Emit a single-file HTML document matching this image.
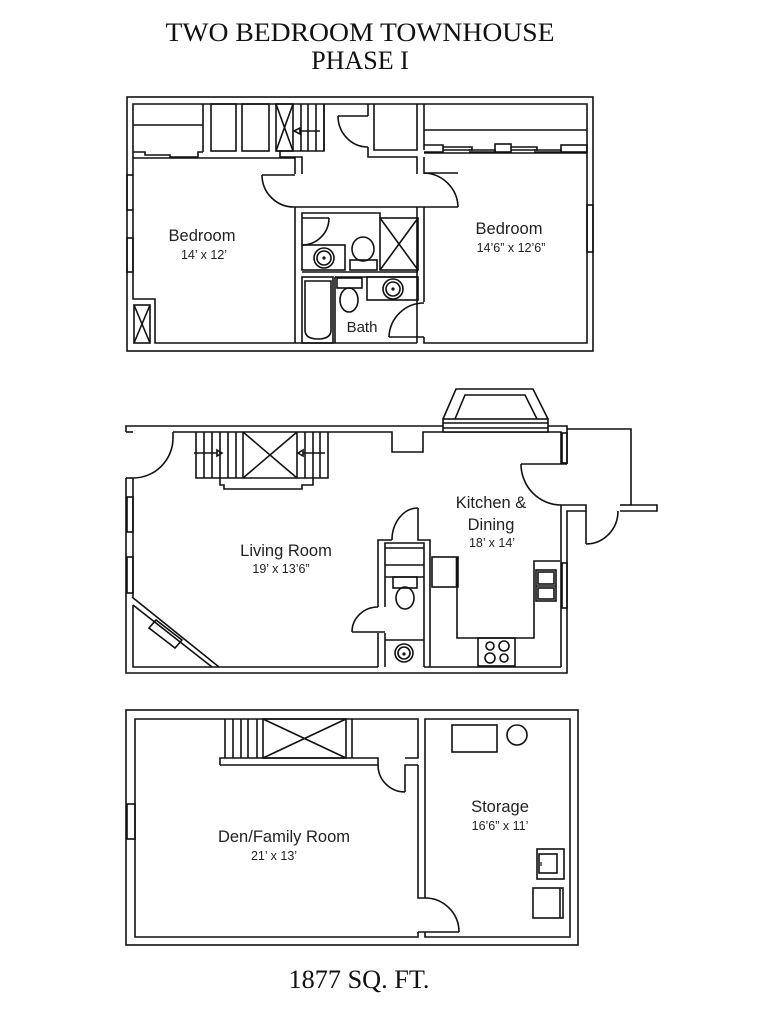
<!DOCTYPE html>
<html><head><meta charset="utf-8"><style>
html,body{margin:0;padding:0;background:#fff}
svg{display:block}
.s{font-family:"Liberation Sans","DejaVu Sans",sans-serif;fill:#222}
.t{font-family:"Liberation Serif",serif;fill:#111}
</style></head><body>
<svg width="772" height="1024" viewBox="0 0 772 1024" xmlns="http://www.w3.org/2000/svg">
<rect width="772" height="1024" fill="#fff"/>
<text class="t" x="360" y="41" font-size="26" text-anchor="middle" textLength="389" lengthAdjust="spacingAndGlyphs">TWO BEDROOM TOWNHOUSE</text>
<text class="t" x="360" y="69" font-size="26" text-anchor="middle">PHASE I</text>
<text class="t" x="359" y="988" font-size="26" text-anchor="middle" textLength="141" lengthAdjust="spacingAndGlyphs">1877 SQ. FT.</text>

<g fill="none" stroke="#111" stroke-width="1.6">
<!-- ========== TOP FLOOR ========== -->
<rect x="127" y="97" width="466" height="254"/>
<polyline points="133,175 133,104 587,104 587,343 424,343 424,337"/>
<polyline points="133,210 133,299 155,299 155,343 417,343"/>
<polyline points="417,343 417,337"/>
<rect x="127" y="175" width="6" height="35"/><rect x="127" y="238" width="6" height="34"/>
<rect x="587" y="205" width="6" height="47"/>
<line x1="133" y1="125" x2="203" y2="125"/>
<polyline points="203,104 203,152"/>
<polyline points="133,152 145,152 145,155 170,155 170,157 198,157 198,152 203,152"/>
<polyline points="133,158 295,158 295,174"/>
<polyline points="280,151 280,157 302,157 302,174"/>
<rect x="211" y="104" width="25" height="47"/>
<rect x="242" y="104" width="27" height="47"/>
<rect x="276" y="104" width="17" height="47"/>
<line x1="276" y1="104" x2="293" y2="151"/><line x1="293" y1="104" x2="276" y2="151"/>
<line x1="301" y1="104" x2="301" y2="151"/><line x1="308" y1="104" x2="308" y2="151"/>
<line x1="316" y1="104" x2="316" y2="151"/><line x1="324" y1="104" x2="324" y2="151"/>
<polyline points="276,151 324,151 324,104"/>
<line x1="300" y1="131" x2="320" y2="131"/>
<polygon points="294,131 300,128 300,134"/>
<polyline points="368,104 368,116"/>
<path d="M338,116 A30,31 0 0 0 368,147"/>
<line x1="338" y1="116" x2="368" y2="116"/>
<polyline points="368,147 368,157 417,157 417,174"/>
<polyline points="374,104 374,150 417,150 417,104"/>
<polyline points="424,104 424,150"/>
<polyline points="424,157 424,174"/>
<line x1="424" y1="130" x2="587" y2="130"/>
<polyline points="424,145 443,145 443,152 424,152"/>
<polyline points="443,147 472,147 472,150 443,150"/>
<polyline points="469,150 495,150 495,152 469,152"/>
<rect x="495" y="144" width="16" height="8"/>
<polyline points="511,147 537,147 537,150 511,150"/>
<polyline points="534,150 561,150 561,152 534,152"/>
<rect x="561" y="145" width="26" height="7"/>
<line x1="424" y1="153" x2="587" y2="153"/>
<path d="M262,175 A32,32 0 0 0 294,207"/>
<line x1="262" y1="175" x2="295" y2="175"/>
<path d="M424,173 A35,35 0 0 1 458,207"/>
<line x1="424" y1="173" x2="458" y2="173"/>
<line x1="294" y1="207" x2="458" y2="207"/>
<polyline points="295,207 295,343"/>
<polyline points="417,207 417,337"/>
<polyline points="424,207 424,302"/>
<polyline points="302,245 302,213 380,213 380,218"/>
<path d="M302,245 A27,27 0 0 0 329,218"/>
<line x1="302" y1="218" x2="329" y2="218"/>
<rect x="302" y="245" width="43" height="25"/>
<circle cx="324" cy="258" r="10"/><circle cx="324" cy="258" r="7"/><circle cx="324" cy="258" r="0.8" fill="#111"/>
<rect x="350" y="260" width="27" height="10"/>
<ellipse cx="363" cy="249" rx="11" ry="12"/>
<rect x="380" y="218" width="38" height="52"/>
<line x1="380" y1="218" x2="418" y2="270"/><line x1="418" y1="218" x2="380" y2="270"/>
<line x1="302" y1="272" x2="418" y2="272"/>
<rect x="302" y="277" width="31" height="66"/>
<path d="M305,281 H331 V330 Q331,339 318,339 Q305,339 305,330 Z"/>
<line x1="335" y1="277" x2="335" y2="343"/>
<line x1="335" y1="277" x2="418" y2="277"/>
<rect x="337" y="278" width="25" height="10"/>
<ellipse cx="349" cy="300" rx="9" ry="12"/>
<rect x="367" y="277" width="51" height="23"/>
<circle cx="393" cy="289" r="10"/><circle cx="393" cy="289" r="7"/><circle cx="393" cy="289" r="0.8" fill="#111"/>
<path d="M424,303 A35,35 0 0 0 389,337"/>
<line x1="389" y1="337" x2="424" y2="337"/>
<rect x="134" y="305" width="16" height="38"/>
<line x1="134" y1="305" x2="150" y2="343"/><line x1="150" y1="305" x2="134" y2="343"/>

<!-- ========== MIDDLE FLOOR ========== -->
<polyline points="126,478 126,673 567,673 567,511 586,511"/>
<polyline points="126,432 126,426 567,426 567,464"/>
<polyline points="173,432 392,432 392,452 423,452 423,432 561,432 561,464"/>
<polyline points="133,478 133,597"/>
<polyline points="133,432 126,432"/>
<path d="M173,438 A40,40 0 0 1 133,478"/>
<line x1="173" y1="432" x2="173" y2="438"/>
<line x1="126" y1="478" x2="133" y2="478"/>
<rect x="127" y="497" width="6" height="35"/><rect x="127" y="557" width="6" height="36"/>
<polyline points="133,605 133,667 378,667"/>
<line x1="132" y1="597" x2="219" y2="667"/>
<line x1="133" y1="605" x2="212" y2="667"/>
<polygon points="149,628 156,620 182,640 175,648"/>
<polyline points="196,432 196,478 328,478 328,432"/>
<line x1="204" y1="432" x2="204" y2="478"/><line x1="212" y1="432" x2="212" y2="478"/>
<line x1="220" y1="432" x2="220" y2="478"/><line x1="228" y1="432" x2="228" y2="478"/>
<line x1="236" y1="432" x2="236" y2="478"/><line x1="243" y1="432" x2="243" y2="478"/>
<line x1="297" y1="432" x2="297" y2="478"/><line x1="305" y1="432" x2="305" y2="478"/>
<line x1="313" y1="432" x2="313" y2="478"/><line x1="320" y1="432" x2="320" y2="478"/>
<line x1="243" y1="432" x2="297" y2="478"/><line x1="297" y1="432" x2="243" y2="478"/>
<polyline points="220,478 220,485 224,485 224,489 302,489 302,485 313,485 313,478"/>
<line x1="194" y1="453" x2="217" y2="453"/><polygon points="222,453 217,450 217,456"/>
<line x1="325" y1="453" x2="303" y2="453"/><polygon points="298,453 303,450 303,456"/>
<rect x="443" y="419" width="105" height="13" fill="#fff"/>
<line x1="443" y1="423" x2="548" y2="423"/><line x1="443" y1="428" x2="548" y2="428"/>
<polyline points="443,419 456,389 533,389 548,419"/>
<polyline points="455,419 465,395 525,395 537,419"/>
<rect x="562" y="433" width="5" height="30"/>
<path d="M521,464 A40,41 0 0 0 561,505"/>
<line x1="521" y1="464" x2="567" y2="464"/>
<polyline points="561,505 586,505 586,544"/>
<path d="M586,544 A32,33 0 0 0 618,511"/>
<polyline points="567,429 631,429 631,505 657,505 657,511 620,511"/>
<line x1="620" y1="505" x2="631" y2="505"/>
<line x1="561" y1="505" x2="561" y2="667"/>
<rect x="562" y="563" width="5" height="45"/>
<polyline points="378,607 378,540 392,540"/>
<path d="M392,540 A26,32 0 0 1 418,508"/>
<polyline points="418,508 418,540 430,540 430,667"/>
<polyline points="385,607 385,543 424,543 424,667"/>
<line x1="385" y1="565" x2="424" y2="565"/>
<line x1="385" y1="548" x2="424" y2="548"/>
<line x1="385" y1="577" x2="424" y2="577"/>
<rect x="393" y="577" width="24" height="11"/>
<ellipse cx="405" cy="598" rx="9" ry="11"/>
<polyline points="378,633 378,667"/><polyline points="385,633 385,667"/>
<path d="M352,632 A26,25 0 0 1 378,607"/>
<line x1="352" y1="632" x2="385" y2="632"/>
<line x1="385" y1="640" x2="424" y2="640"/>
<circle cx="404" cy="653" r="9"/><circle cx="404" cy="653" r="6"/><circle cx="404" cy="654" r="0.8" fill="#111"/>
<line x1="424" y1="667" x2="561" y2="667"/>
<rect x="432" y="557" width="26" height="30"/>
<line x1="457" y1="557" x2="457" y2="587" stroke-width="2.6"/>
<polyline points="457,587 457,638 534,638 534,561 560,561"/>
<rect x="478" y="638" width="37" height="28"/>
<circle cx="490" cy="646" r="4"/><circle cx="504" cy="646" r="5"/>
<circle cx="490" cy="658" r="5"/><circle cx="504" cy="658" r="4"/>
<rect x="536" y="570" width="20" height="31"/>
<line x1="536" y1="586" x2="556" y2="586"/>
<rect x="538" y="572" width="16" height="12"/><rect x="538" y="588" width="16" height="11"/>

<!-- ========== BOTTOM FLOOR ========== -->
<rect x="126" y="710" width="452" height="235"/>
<polyline points="418,765 418,898 425,898"/>
<polyline points="418,932 418,937 135,937 135,719 418,719 418,758 405,758"/>
<polyline points="425,898 425,719 570,719 570,937 425,937 425,932"/>
<rect x="127" y="804" width="8" height="35"/>
<line x1="225" y1="719" x2="225" y2="758"/><line x1="233" y1="719" x2="233" y2="758"/>
<line x1="241" y1="719" x2="241" y2="758"/><line x1="248" y1="719" x2="248" y2="758"/>
<line x1="257" y1="719" x2="257" y2="758"/>
<rect x="263" y="719" width="83" height="39"/>
<line x1="263" y1="719" x2="346" y2="758"/><line x1="346" y1="719" x2="263" y2="758"/>
<polyline points="220,765 220,758 378,758 378,765 220,765"/>
<line x1="352" y1="719" x2="352" y2="758"/>
<path d="M378,765 A27,27 0 0 0 405,792"/>
<polyline points="405,792 405,765 418,765"/>
<path d="M425,898 A34,34 0 0 1 459,932"/>
<line x1="418" y1="932" x2="459" y2="932"/>
<rect x="452" y="725" width="45" height="27"/>
<circle cx="517" cy="735" r="10"/>
<rect x="537" y="849" width="27" height="30"/>
<rect x="539" y="854" width="18" height="19"/>
<line x1="541" y1="862" x2="541" y2="866" stroke-width="1.2"/>
<rect x="533" y="888" width="30" height="30"/>
<line x1="560" y1="888" x2="560" y2="918"/>
</g>

<text class="s" x="202" y="241" font-size="16.5" text-anchor="middle">Bedroom</text>
<text class="s" x="204" y="259" font-size="12.5" text-anchor="middle">14’ x 12’</text>
<text class="s" x="509" y="234" font-size="16.5" text-anchor="middle">Bedroom</text>
<text class="s" x="511" y="252" font-size="12.5" text-anchor="middle">14’6” x 12’6”</text>
<text class="s" x="362" y="332" font-size="15" text-anchor="middle">Bath</text>
<text class="s" x="286" y="556" font-size="16.5" text-anchor="middle">Living Room</text>
<text class="s" x="281" y="573" font-size="12.5" text-anchor="middle">19’ x 13’6”</text>
<text class="s" x="491" y="508" font-size="16.5" text-anchor="middle">Kitchen &amp;</text>
<text class="s" x="491" y="530" font-size="16.5" text-anchor="middle">Dining</text>
<text class="s" x="492" y="547" font-size="12.5" text-anchor="middle">18’ x 14’</text>
<text class="s" x="284" y="842" font-size="16.5" text-anchor="middle">Den/Family Room</text>
<text class="s" x="274" y="860" font-size="12.5" text-anchor="middle">21’ x 13’</text>
<text class="s" x="500" y="812" font-size="16.5" text-anchor="middle">Storage</text>
<text class="s" x="500" y="830" font-size="12.5" text-anchor="middle">16’6” x 11’</text>
</svg>
</body></html>
